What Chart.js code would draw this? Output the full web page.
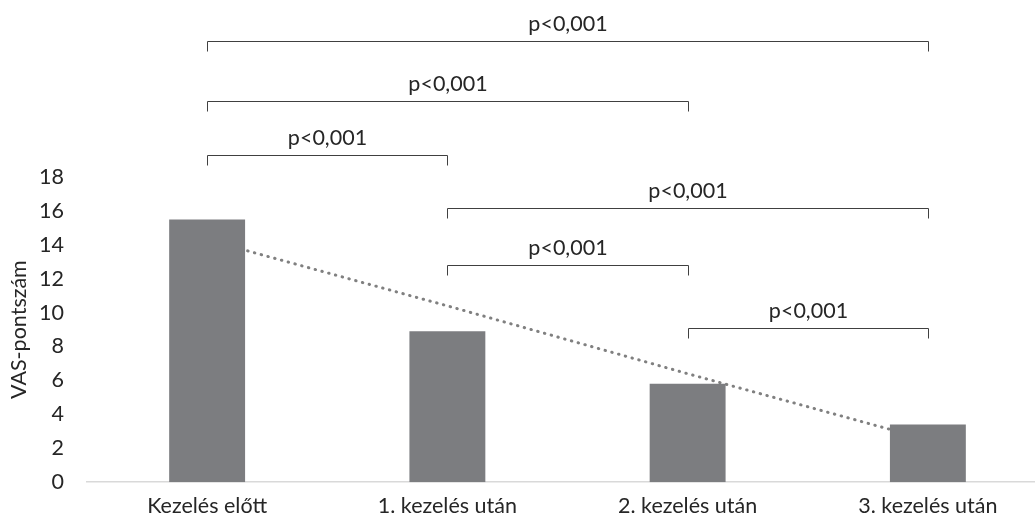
<!DOCTYPE html>
<html>
<head>
<meta charset="utf-8">
<script src="https://cdn.jsdelivr.net/npm/chart.js@4"></script>
<style>
  html, body { margin: 0; padding: 0; background: #fff; overflow: hidden; }
  canvas { display: block; }
</style>
</head>
<body>
<canvas id="myChart" width="1048" height="530"></canvas>
<script>
var categories = ['Kezelés előtt', '1. kezelés után', '2. kezelés után', '3. kezelés után'];
var vasScores = [15.5, 8.9, 5.8, 3.4];
var trendValues = [14.3, 10.4, 6.4, 2.5];
var yTicks = [0, 2, 4, 6, 8, 10, 12, 14, 16, 18];

// significance brackets: from category, to category, label
var bracketFrom = [0, 0, 0, 1, 1, 2];
var bracketTo = [3, 2, 1, 3, 2, 3];
var bracketLabel = ['p<0,001', 'p<0,001', 'p<0,001', 'p<0,001', 'p<0,001', 'p<0,001'];
var bracketLevel = [26.0, 22.5, 19.3, 16.2, 12.8, 9.1];

var fontFamily = 'Lato, "Open Sans", sans-serif';
var fontSize = 21.5;

var bracketPlugin = {
  id: 'brackets',
  afterDraw: function(chart) {
    var c = chart.ctx;
    var x = chart.scales.x, y = chart.scales.y;
    c.save();
    c.strokeStyle = '#404040';
    c.lineWidth = 1;
    c.fillStyle = '#262626';
    c.font = fontSize + 'px ' + fontFamily;
    c.textAlign = 'center';
    c.textBaseline = 'middle';
    for (var i = 0; i < bracketFrom.length; i++) {
      var x1 = Math.round(x.getPixelForValue(bracketFrom[i])) + 0.5;
      var x2 = Math.round(x.getPixelForValue(bracketTo[i])) + 0.5;
      var yy = Math.round(y.getPixelForValue(bracketLevel[i])) + 0.5;
      c.beginPath();
      c.moveTo(x1, yy + 10);
      c.lineTo(x1, yy);
      c.lineTo(x2, yy);
      c.lineTo(x2, yy + 10);
      c.stroke();
      c.fillText(bracketLabel[i], (x1 + x2) / 2, yy - 17);
    }
    c.restore();
  }
};

var ctx = document.getElementById('myChart');
var vasChart = new Chart(ctx, {
  data: {
    labels: categories,
    datasets: [{
      type: 'bar',
      label: 'VAS',
      data: vasScores,
      backgroundColor: '#7c7d80',
      categoryPercentage: 1,
      barPercentage: 0.316,
      order: 1
    }, {
      type: 'line',
      label: 'Trend',
      data: trendValues,
      borderColor: '#808080',
      borderWidth: 3,
      borderDash: [0.5, 6.5],
      borderCapStyle: 'round',
      pointRadius: 0,
      fill: false,
      order: 2
    }]
  },
  options: {
    responsive: false,
    animation: false,
    devicePixelRatio: 1,
    layout: { padding: { top: 177, left: 0, right: 0, bottom: 0 } },
    plugins: { legend: { display: false }, tooltip: { enabled: false } },
    scales: {
      x: {
        offset: true,
        grid: { display: false, drawTicks: false },
        border: { color: '#d9d9d9', width: 1.5 },
        ticks: { color: '#262626', font: { family: fontFamily, size: fontSize }, padding: 11, maxRotation: 0 }
      },
      y: {
        min: 0,
        max: 18,
        afterBuildTicks: function(axis) {
          axis.ticks = yTicks.map(function(v) { return { value: v }; });
        },
        afterFit: function(axis) { axis.width = 87; },
        grid: { display: false, drawTicks: false },
        border: { display: false },
        ticks: { color: '#262626', font: { family: fontFamily, size: fontSize }, padding: 23 },
        title: {
          display: true,
          text: 'VAS-pontszám',
          color: '#262626',
          font: { family: fontFamily, size: fontSize },
          padding: { top: 6, bottom: 0 }
        }
      }
    }
  },
  plugins: [bracketPlugin]
});
</script>
</body>
</html>
